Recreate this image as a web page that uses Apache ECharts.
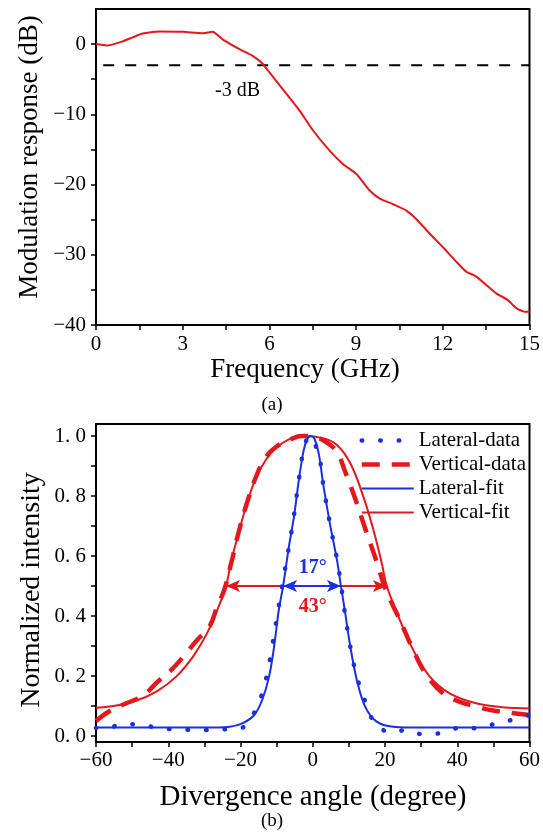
<!DOCTYPE html>
<html><head><meta charset="utf-8">
<script src="https://cdn.jsdelivr.net/npm/echarts@6/dist/echarts.min.js"></script>
<style>html,body{margin:0;padding:0;background:#fff}#c{width:543px;height:832px}</style>
</head><body><div id="c"></div>
<script>
// ---------- Panel (a): modulation response ----------
const freqGHz = [0, 0.37, 0.93, 1.29, 1.62, 2.21, 3.0, 3.7, 4.03, 4.39, 4.98, 5.43, 5.73, 6.01, 6.46, 7.05, 7.51, 8.09, 8.55, 9.01, 9.47, 9.82, 10.28, 10.74, 11.08, 11.55, 12.0, 12.47, 12.81, 13.16, 13.5, 13.85, 14.25, 14.54, 14.83, 15];
const responseDb = [0, -0.2, 0.4, 1.0, 1.5, 1.8, 1.75, 1.55, 1.75, 0.65, -0.75, -1.7, -2.65, -4.05, -6.4, -9.5, -12.3, -15.2, -17.1, -18.5, -20.85, -22.0, -22.8, -23.7, -24.9, -27.0, -28.9, -31.0, -32.4, -33.1, -34.3, -35.5, -36.45, -37.6, -38.1, -38.1];
const thresholdX = [0.25, 15];
const thresholdY = [-3, -3];
const thresholdLabel = '-3 dB';
const thresholdLabelPos = [4.9, -6.7];
const topXLabels = [0, 3, 6, 9, 12, 15];
const topXTicks = [0, 1.5, 3, 4.5, 6, 7.5, 9, 10.5, 12, 13.5, 15];
const topYLabels = [-40, -30, -20, -10, 0];
const topYTicks = [-40, -35, -30, -25, -20, -15, -10, -5, 0];

// ---------- Panel (b): far-field divergence ----------
const latDataX = [-60, -57.1, -52.5, -47.4, -42.4, -37.8, -31.4, -25.4, -19.5, -16.2, -14, -12.4, -11.4, -9.55, -8.5, -6.6, -5.2, -3.85, -2.5, -1, 1.6, 3.0, 4.9, 6.7, 7.9, 8.5, 10.4, 12.2, 15.0, 17.3, 19.5, 21.6, 25.8, 29.8, 35.1, 40.2, 45.2, 50.3, 54.9, 60];
const latDataY = [0.027, 0.026, 0.04, 0.037, 0.026, 0.022, 0.02, 0.022, 0.028, 0.078, 0.142, 0.22, 0.287, 0.422, 0.5, 0.63, 0.735, 0.855, 0.955, 1.0, 0.94, 0.83, 0.7, 0.59, 0.5, 0.442, 0.298, 0.198, 0.1, 0.037, 0.02, 0.011, 0.02, 0.007, 0.009, 0.026, 0.026, 0.04, 0.053, 0.07];
const vertDataX = [-60, -56, -51.6, -47, -42.9, -39, -36, -32, -28.6, -26.5, -24.5, -22.5, -20.5, -18, -15.5, -13, -10, -6, -3, 0, 3, 6.5, 9, 11.5, 14, 16, 18, 19.8, 22, 24.1, 27.8, 31.5, 36.1, 40.7, 44.8, 48.9, 54.4, 60];
const vertDataY = [0.05, 0.085, 0.109, 0.135, 0.181, 0.222, 0.262, 0.32, 0.364, 0.43, 0.487, 0.58, 0.68, 0.785, 0.87, 0.93, 0.965, 0.99, 1.0, 0.998, 0.985, 0.95, 0.88, 0.8, 0.71, 0.64, 0.57, 0.5, 0.44, 0.387, 0.287, 0.203, 0.142, 0.114, 0.1, 0.087, 0.078, 0.07];
const latFitX = [-60, -30, -23, -19.5, -16.2, -14, -12.1, -10.7, -9.4, -8.2, -6.6, -5.2, -3.85, -2.5, -1.5, -0.5, 0.5, 1.65, 3.0, 4.9, 6.7, 7.8, 9.0, 10.4, 12.2, 14.5, 17.7, 22.3, 30, 60];
const latFitY = [0.028, 0.028, 0.031, 0.042, 0.07, 0.12, 0.198, 0.298, 0.42, 0.5, 0.631, 0.731, 0.853, 0.953, 0.99, 1.0, 0.99, 0.942, 0.831, 0.698, 0.587, 0.5, 0.409, 0.298, 0.187, 0.098, 0.048, 0.031, 0.028, 0.028];
const vertFitX = [-60, -56.2, -49.7, -43.3, -37.8, -33.2, -29.5, -26.8, -24, -22.7, -20.8, -18.5, -15.8, -13, -10.3, -6.6, -2.5, 3, 6.7, 10.4, 14, 16.8, 19.1, 20.5, 24.1, 27.8, 32.4, 37.9, 45.2, 52.6, 60];
const vertFitY = [0.094, 0.098, 0.114, 0.148, 0.198, 0.264, 0.337, 0.409, 0.5, 0.576, 0.664, 0.764, 0.859, 0.92, 0.959, 0.989, 1.0, 0.992, 0.97, 0.909, 0.798, 0.687, 0.576, 0.5, 0.387, 0.287, 0.198, 0.142, 0.109, 0.096, 0.092];
const halfMax = 0.5;
const latArrowX = [-8.2, 7.8];
const vertArrowX = [-24, 20.5];
const latWidthLabel = '17°';
const vertWidthLabel = '43°';
const latLabelPos = [0, 0.562];
const vertLabelPos = [0, 0.432];
const botXLabels = [-60, -40, -20, 0, 20, 40, 60];
const botXTicks = [-60, -50, -40, -30, -20, -10, 0, 10, 20, 30, 40, 50, 60];
const botYLabels = [0, 0.2, 0.4, 0.6, 0.8, 1.0];
const botYTicks = [0, 0.1, 0.2, 0.3, 0.4, 0.5, 0.6, 0.7, 0.8, 0.9, 1.0];
const legendNames = ['Lateral-data', 'Vertical-data', 'Lateral-fit', 'Vertical-fit'];

const zip = (xs, ys) => xs.map((x, i) => [x, ys[i]]);
const RED = '#e3171c', BLUE = '#1a2fe0', FONT = 'Liberation Serif';
const minus = s => String(s).replace('-', '\u2212');

function axisBase(tickVals, labelVals, fmt, margin) {
  return {
    type: 'value',
    axisLine: { show: true, onZero: false, lineStyle: { color: '#000', width: 2 } },
    axisTick: { show: true, inside: false, length: 5, customValues: tickVals, lineStyle: { color: '#000', width: 1.5 } },
    axisLabel: { customValues: labelVals, formatter: fmt, color: '#000', fontFamily: FONT, fontSize: 21, margin: margin },
    splitLine: { show: false }
  };
}

const chart = echarts.init(document.getElementById('c'), null, { renderer: 'canvas' });
chart.setOption({
  backgroundColor: '#fff',
  animation: false,
  grid: [
    { left: 96, right: 13, top: 9, bottom: 507, show: true, borderColor: '#000', borderWidth: 2, backgroundColor: 'transparent' },
    { left: 96, right: 11, top: 424, bottom: 90, show: true, borderColor: '#000', borderWidth: 2, backgroundColor: 'transparent' }
  ],
  xAxis: [
    Object.assign(axisBase(topXTicks, topXLabels, v => minus(v), 9), { gridIndex: 0, min: 0, max: 15 }),
    Object.assign(axisBase(botXTicks, botXLabels, v => minus(v), 8), { gridIndex: 1, min: -60, max: 60 })
  ],
  yAxis: [
    Object.assign(axisBase(topYTicks, topYLabels, v => minus(v), 10), { gridIndex: 0, min: -40, max: 5 }),
    Object.assign(axisBase(botYTicks, botYLabels, v => v.toFixed(1).replace('.', '. '), 10), { gridIndex: 1, min: -0.02, max: 1.04 })
  ],
  legend: {
    data: legendNames,
    orient: 'vertical',
    right: 12,
    top: 425,
    itemWidth: 52,
    itemHeight: 14,
    itemGap: 3,
    itemStyle: { opacity: 0 },
    lineStyle: { width: 'inherit', type: 'inherit', cap: 'inherit', color: 'inherit' },
    textStyle: { color: '#000', fontFamily: FONT, fontSize: 21 },
    backgroundColor: 'transparent'
  },
  series: [
    {
      name: 'response', type: 'line', xAxisIndex: 0, yAxisIndex: 0,
      data: zip(freqGHz, responseDb), symbol: 'none', smooth: 0.2,
      lineStyle: { color: RED, width: 2 }, z: 3
    },
    {
      name: 'threshold', type: 'line', xAxisIndex: 0, yAxisIndex: 0,
      data: zip(thresholdX, thresholdY), symbol: 'none',
      lineStyle: { color: '#000', width: 2, type: [11, 11] }, z: 2,
      markPoint: {
        symbol: 'circle', symbolSize: 0, silent: true,
        data: [{ coord: thresholdLabelPos }],
        label: { show: true, position: 'inside', formatter: thresholdLabel, color: '#000', fontFamily: FONT, fontSize: 20 }
      }
    },
    {
      name: 'Vertical-fit', type: 'line', xAxisIndex: 1, yAxisIndex: 1,
      data: zip(vertFitX, vertFitY), symbol: 'none', smooth: 0.4,
      color: RED, lineStyle: { color: RED, width: 2 }, z: 3,
      markLine: {
        silent: true, symbol: ['arrow', 'arrow'], symbolSize: [9, 14],
        lineStyle: { color: RED, width: 2, type: 'solid' }, label: { show: false },
        data: [[{ coord: [vertArrowX[0], halfMax] }, { coord: [vertArrowX[1], halfMax] }]]
      },
      markPoint: {
        symbol: 'circle', symbolSize: 0, silent: true,
        data: [{ coord: vertLabelPos }],
        label: { show: true, position: 'inside', formatter: vertWidthLabel, color: RED, fontWeight: 'bold', fontFamily: FONT, fontSize: 20 }
      }
    },
    {
      name: 'Vertical-data', type: 'line', xAxisIndex: 1, yAxisIndex: 1,
      data: zip(vertDataX, vertDataY), symbol: 'none', smooth: 0.4,
      color: RED, lineStyle: { color: RED, width: 4.5, type: [18, 12] }, z: 4
    },
    {
      name: 'Lateral-fit', type: 'line', xAxisIndex: 1, yAxisIndex: 1,
      data: zip(latFitX, latFitY), symbol: 'none', smooth: 0.35,
      color: BLUE, lineStyle: { color: BLUE, width: 2 }, z: 5,
      markLine: {
        silent: true, symbol: ['arrow', 'arrow'], symbolSize: [9, 14],
        lineStyle: { color: BLUE, width: 2, type: 'solid' }, label: { show: false },
        data: [[{ coord: [latArrowX[0], halfMax] }, { coord: [latArrowX[1], halfMax] }]]
      },
      markPoint: {
        symbol: 'circle', symbolSize: 0, silent: true,
        data: [{ coord: latLabelPos }],
        label: { show: true, position: 'inside', formatter: latWidthLabel, color: BLUE, fontWeight: 'bold', fontFamily: FONT, fontSize: 20 }
      }
    },
    {
      name: 'Lateral-data', type: 'line', xAxisIndex: 1, yAxisIndex: 1,
      data: zip(latDataX, latDataY), symbol: 'none', smooth: 0.35,
      color: BLUE, lineStyle: { color: BLUE, width: 4.5, type: [0.5, 18], cap: 'round' }, z: 6
    }
  ],
  graphic: [
    { type: 'text', x: 30, y: 157, rotation: Math.PI / 2, style: { text: 'Modulation response (dB)', fontFamily: FONT, fontSize: 27, fill: '#000', textAlign: 'center', verticalAlign: 'middle', textVerticalAlign: 'middle' } },
    { type: 'text', x: 305, y: 370, style: { text: 'Frequency (GHz)', fontFamily: FONT, fontSize: 27, fill: '#000', textAlign: 'center', verticalAlign: 'middle', textVerticalAlign: 'middle' } },
    { type: 'text', x: 272, y: 405, style: { text: '(a)', fontFamily: FONT, fontSize: 19, fill: '#000', textAlign: 'center', verticalAlign: 'middle', textVerticalAlign: 'middle' } },
    { type: 'text', x: 32, y: 590, rotation: Math.PI / 2, style: { text: 'Normalized intensity', fontFamily: FONT, fontSize: 28, fill: '#000', textAlign: 'center', verticalAlign: 'middle', textVerticalAlign: 'middle' } },
    { type: 'text', x: 313, y: 797, style: { text: 'Divergence angle (degree)', fontFamily: FONT, fontSize: 29, fill: '#000', textAlign: 'center', verticalAlign: 'middle', textVerticalAlign: 'middle' } },
    { type: 'text', x: 272, y: 821, style: { text: '(b)', fontFamily: FONT, fontSize: 19, fill: '#000', textAlign: 'center', verticalAlign: 'middle', textVerticalAlign: 'middle' } }
  ]
});
</script></body></html>
